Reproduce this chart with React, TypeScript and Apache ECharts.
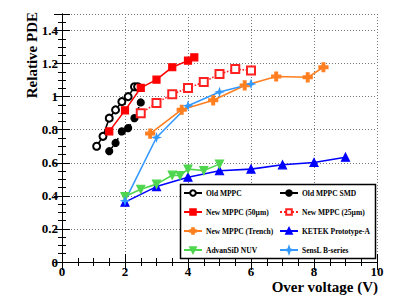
import React, { useEffect, useRef } from "react";
import * as echarts from "echarts";

const oldMppcX = [1.1, 1.3, 1.5, 1.7, 1.9, 2.1, 2.3, 2.4];
const oldMppcY = [0.70, 0.76, 0.87, 0.92, 0.97, 1.0, 1.06, 1.06];
const smdX = [1.5, 1.7, 1.9, 2.1, 2.3, 2.5];
const smdY = [0.67, 0.72, 0.79, 0.81, 0.87, 0.965];
const new50X = [1.5, 2.0, 2.5, 3.0, 3.5, 4.0, 4.2];
const new50Y = [0.79, 0.917, 1.053, 1.103, 1.178, 1.218, 1.238];
const new25X = [2.5, 3.0, 3.5, 4.0, 4.5, 5.0, 5.5, 6.0];
const new25Y = [0.90, 0.962, 1.015, 1.053, 1.088, 1.137, 1.167, 1.158];
const trenchX = [2.8, 3.8, 4.8, 5.8, 6.8, 7.8, 8.3];
const trenchY = [0.777, 0.921, 0.978, 1.068, 1.122, 1.117, 1.178];
const ketekX = [2, 3, 4, 5, 6, 7, 8, 9];
const ketekY = [0.362, 0.456, 0.513, 0.552, 0.562, 0.588, 0.602, 0.634];
const advanX = [2.0, 2.5, 3.0, 3.5, 3.75, 4.0, 4.5, 5.0];
const advanY = [0.396, 0.44, 0.471, 0.525, 0.523, 0.562, 0.553, 0.592];
const senslX = [2, 3, 4, 5, 6];
const senslY = [0.37, 0.753, 0.945, 1.028, 1.077];

const legendLeft = ["Old MPPC", "New MPPC (50\u00b5m)", "New MPPC (Trench)", "AdvanSiD NUV"];
const legendRight = ["Old MPPC SMD", "New MPPC (25\u00b5m)", "KETEK Prototype-A", "SensL B-series"];

const zip = (xs: number[], ys: number[]) => xs.map((x, i) => [x, ys[i]]);

const FONT = "Liberation Serif";
const CROSS = "path://M-3,-10 H3 V-3 H10 V3 H3 V10 H-3 V3 H-10 V-3 H-3 Z";
const STAR = "path://M0,-10 L2.5,-2.5 L10,0 L2.5,2.5 L0,10 L-2.5,2.5 L-10,0 L-2.5,-2.5 Z";

export default function App() {
  const ref = useRef<HTMLDivElement>(null);
  useEffect(() => {
    if (!ref.current) return;
    document.body.style.margin = "0";
    const chart = echarts.init(ref.current, undefined, { renderer: "svg" });
    const axisCommon = {
      type: "value" as const,
      axisLine: { show: true, lineStyle: { color: "#000", width: 1 } },
      axisTick: { show: true, inside: true, length: 8, lineStyle: { color: "#000" } },
      minorTick: { show: true, splitNumber: 4, length: 4, lineStyle: { color: "#000" } },
    };
    const mk = (
      name: string, xs: number[], ys: number[], color: string, symbol: string,
      size: number, lineType: string = "solid", extra: any = {}
    ) => ({
      name,
      type: "line",
      data: zip(xs, ys),
      symbol,
      symbolSize: size,
      showAllSymbol: true,
      lineStyle: { color, width: 1.6, type: lineType },
      itemStyle: { color, borderColor: color, borderWidth: 1.2 },
      z: 2,
      ...extra,
    });
    const legendBase = {
      orient: "vertical" as const,
      top: 189,
      itemGap: 11,
      itemWidth: 18,
      itemHeight: 7,
      padding: 0,
      z: 10,
      textStyle: { fontFamily: FONT, fontWeight: "bold", fontSize: 7.5, color: "#000", padding: [0, 0, 0, -1] },
    };
    chart.setOption({
      animation: false,
      backgroundColor: "#fff",
      grid: { left: 62, right: 38, top: 14, bottom: 36, containLabel: false },
      xAxis: [
        {
          ...axisCommon,
          min: 0, max: 10, interval: 2,
          axisLabel: { fontFamily: FONT, fontWeight: "bold", fontSize: 13, color: "#000", margin: 3 },
          splitLine: { show: true, lineStyle: { color: "#777", type: [1, 2], width: 1 } },
        },
        {
          ...axisCommon,
          position: "top",
          min: 0, max: 10, interval: 2,
          axisLabel: { show: false },
          splitLine: { show: false },
        },
      ],
      yAxis: [
        {
          ...axisCommon,
          min: 0, max: 1.5, interval: 0.2,
          axisLabel: { fontFamily: FONT, fontWeight: "bold", fontSize: 13, color: "#000", margin: 4, showMaxLabel: false },
          splitLine: { show: true, lineStyle: { color: "#777", type: [1, 2], width: 1 } },
        },
        {
          ...axisCommon,
          position: "right",
          min: 0, max: 1.5, interval: 0.2,
          axisLabel: { show: false },
          splitLine: { show: false },
        },
      ],
      legend: [
        { ...legendBase, left: 183, data: legendLeft },
        { ...legendBase, left: 279, data: legendRight },
      ],
      graphic: [
        {
          type: "rect",
          z: 5,
          shape: { x: 180.5, y: 184.5, width: 195, height: 74 },
          style: { fill: "#fff", stroke: "#000", lineWidth: 1.5 },
        },
        {
          type: "text",
          x: 32,
          y: 12,
          rotation: Math.PI / 2,
          style: {
            text: "Relative PDE",
            fontFamily: FONT,
            fontWeight: "bold",
            fontSize: 15,
            fill: "#000",
            align: "right",
            verticalAlign: "middle",
          },
        },
        {
          type: "text",
          x: 378,
          y: 287,
          style: {
            text: "Over voltage (V)",
            fontFamily: FONT,
            fontWeight: "bold",
            fontSize: 15,
            fill: "#000",
            align: "right",
            verticalAlign: "middle",
          },
        },
      ],
      series: [
        mk("Old MPPC", oldMppcX, oldMppcY, "#000000", "emptyCircle", 7),
        mk("Old MPPC SMD", smdX, smdY, "#000000", "circle", 7, "dashed"),
        mk("New MPPC (50\u00b5m)", new50X, new50Y, "#ff0000", "rect", 7),
        mk("New MPPC (25\u00b5m)", new25X, new25Y, "#ff2020", "emptyRect", 8, "dotted"),
        mk("New MPPC (Trench)", trenchX, trenchY, "#ff7f20", CROSS, 9),
        mk("KETEK Prototype-A", ketekX, ketekY, "#0000ff", "triangle", 8),
        mk("AdvanSiD NUV", advanX, advanY, "#4fd64f", "triangle", 8, "solid", { symbolRotate: 180 }),
        mk("SensL B-series", senslX, senslY, "#3399ff", STAR, 7),
      ],
    });
    return () => chart.dispose();
  }, []);
  return <div ref={ref} style={{ width: 415, height: 298 }} />;
}
